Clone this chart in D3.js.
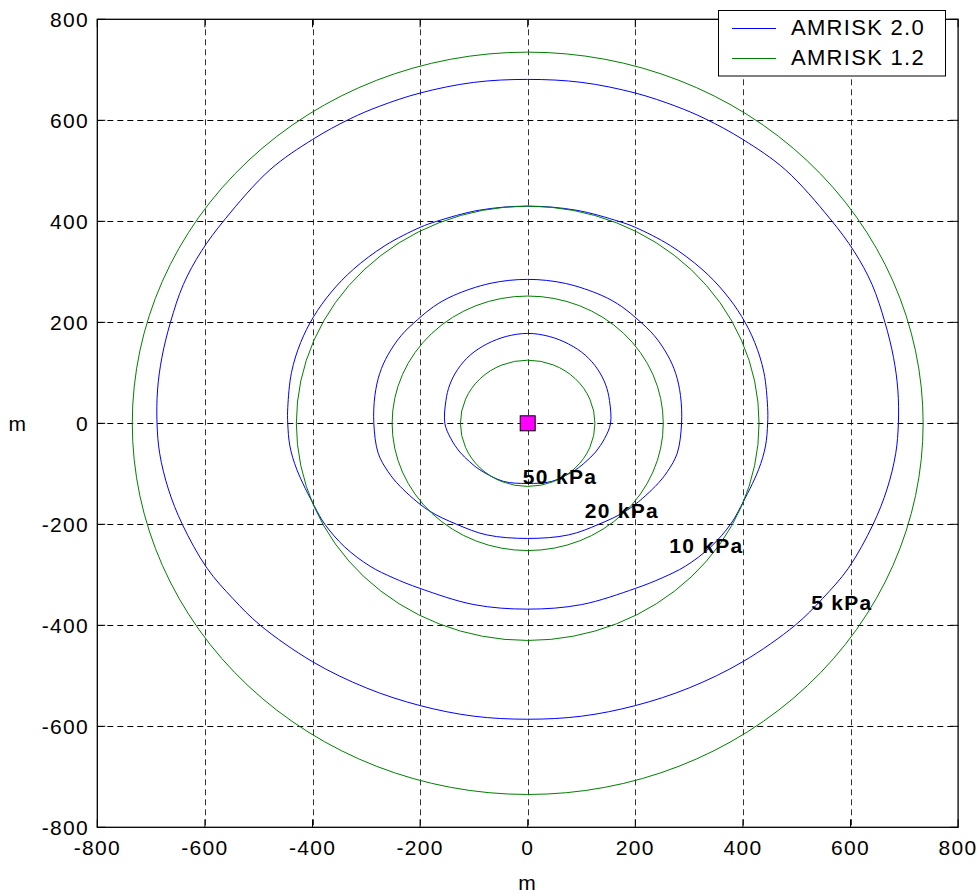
<!DOCTYPE html>
<html>
<head>
<meta charset="UTF-8">
<title>AMRISK overpressure contours</title>
<script src="https://d3js.org/d3.v7.min.js"></script>
<style>
  body { margin: 0; background: #fff; }
  svg text { font-family: "Liberation Sans", Arial, sans-serif; fill: #000; }
  .tick-label { font-size: 21px; letter-spacing: 1.3px; }
  .kpa { font-size: 21px; font-weight: bold; letter-spacing: 1.3px; }
  .legend-text { font-size: 22px; letter-spacing: 1.3px; }
</style>
</head>
<body>
<div id="chart"></div>
<script>
  // tick values, both axes
  const ticks = [-800, -600, -400, -200, 0, 200, 400, 600, 800];

  // AMRISK 2.0 contours (blue), metres
  const blue5 = [[0,681],[-101,675],[-200,654],[-275,628],[-330,603],[-400,562],[-479,502],[-562,405],
    [-607,340],[-640,275],[-664,200],[-680,130],[-688,66],[-689,0],[-684,-60],[-668,-130],[-642,-200],
    [-596,-287],[-548,-347],[-497,-400],[-400,-472],[-300,-524],[-200,-559],[-100,-580],[0,-586],
    [100,-580],[200,-559],[300,-524],[400,-472],[497,-400],[548,-347],[596,-287],[642,-200],
    [668,-130],[684,-60],[689,0],[688,66],[680,130],[664,200],[640,275],[607,340],[562,405],
    [479,502],[400,562],[330,603],[275,628],[200,654],[101,675]];
  const blue10 = [[0,430],[-90,422],[-169,400],[-200,388],[-265,352],[-324,305],[-365,260],[-398,211],
    [-422,160],[-439,101],[-446,31],[-446,0],[-442,-45],[-429,-92],[-396,-165],[-377,-200],
    [-340,-245],[-293,-283],[-250,-306],[-200,-327],[-100,-359],[0,-368],
    [100,-359],[200,-327],[250,-306],[293,-283],[340,-245],[377,-200],[396,-165],[429,-92],
    [442,-45],[446,0],[446,31],[439,101],[422,160],[398,211],[365,260],[324,305],[265,352],
    [200,388],[169,400],[90,422]];
  const blue20 = [[0,285],[-70,277],[-138,253],[-175,231],[-205,205],[-235,174],[-260,135],[-275,99],
    [-284,55],[-286,0],[-278,-59],[-260,-95],[-237,-125],[-185,-172],[-132,-200],[-76,-221],[0,-228],
    [76,-221],[132,-200],[185,-172],[237,-125],[260,-95],[278,-59],[286,0],[284,55],[275,99],
    [260,135],[235,174],[205,205],[175,231],[138,253],[70,277]];
  const blue50 = [[0,178],[-40,172],[-76,157],[-107,135],[-130,107],[-145,76],[-152,45],[-154,0],
    [-143,-30],[-126,-57],[-108,-76],[-89,-92],[-45,-115],[0,-119],
    [45,-115],[89,-92],[108,-76],[126,-57],[143,-30],[154,0],[152,45],[145,76],[130,107],
    [107,135],[76,157],[40,172]];

  // AMRISK 1.2 contours (green) are circles about the source, radius in metres
  const greenRadii = [735, 430, 252, 125];

  // contour labels, anchored at data coordinates
  const labels = [
    { text: "50 kPa", x: -9,  y: -106 },
    { text: "20 kPa", x: 106, y: -172 },
    { text: "10 kPa", x: 263, y: -241 },
    { text: "5 kPa",  x: 527, y: -354 }
  ];

  const width = 979, height = 894;
  const margin = { top: 19.3, right: 20.9, bottom: 66.7, left: 97.3 };

  const svg = d3.select("#chart").append("svg")
    .attr("width", width)
    .attr("height", height);

  const x = d3.scaleLinear().domain([-800, 800]).range([margin.left, width - margin.right]);
  const y = d3.scaleLinear().domain([-800, 800]).range([height - margin.bottom, margin.top]);

  // grid
  const grid = svg.append("g").attr("stroke", "#000").attr("stroke-width", 1)
    .attr("stroke-dasharray", "6,4").attr("fill", "none");
  grid.selectAll("line.v").data(ticks.slice(1, -1)).join("line")
    .attr("stroke", "#333")
    .attr("x1", d => Math.round(x(d)) + 0.5).attr("x2", d => Math.round(x(d)) + 0.5)
    .attr("y1", y(800)).attr("y2", y(-800));
  grid.selectAll("line.h").data(ticks.slice(1, -1)).join("line")
    .attr("class", "h")
    .attr("y1", d => Math.round(y(d)) + 0.5).attr("y2", d => Math.round(y(d)) + 0.5)
    .attr("x1", x(-800)).attr("x2", x(800));

  // contours
  const line = d3.line()
    .x(d => x(d[0])).y(d => y(d[1]))
    .curve(d3.curveCatmullRomClosed.alpha(0.5));

  svg.append("g").selectAll("path").data([blue5, blue10, blue20, blue50]).join("path")
    .attr("d", line)
    .attr("fill", "none").attr("stroke", "#0000ff").attr("stroke-width", 1);

  svg.append("g").selectAll("ellipse").data(greenRadii).join("ellipse")
    .attr("cx", x(0)).attr("cy", y(0))
    .attr("rx", d => x(d) - x(0)).attr("ry", d => y(0) - y(d))
    .attr("fill", "none").attr("stroke", "#008000").attr("stroke-width", 1);

  // source marker
  svg.append("rect")
    .attr("x", x(0) - 7.5).attr("y", y(0) - 7.5)
    .attr("width", 15).attr("height", 15)
    .attr("fill", "#ff00ff").attr("stroke", "#000").attr("stroke-width", 1);

  // labels
  svg.append("g").selectAll("text").data(labels).join("text")
    .attr("class", "kpa")
    .attr("x", d => x(d.x)).attr("y", d => y(d.y))
    .attr("dominant-baseline", "central")
    .text(d => d.text);

  // frame and inward ticks
  svg.append("rect")
    .attr("x", x(-800)).attr("y", y(800))
    .attr("width", x(800) - x(-800)).attr("height", y(-800) - y(800))
    .attr("fill", "none").attr("stroke", "#000").attr("stroke-width", 1.3);

  const tk = svg.append("g").attr("stroke", "#000").attr("stroke-width", 1);
  ticks.forEach(t => {
    tk.append("line").attr("x1", x(t)).attr("x2", x(t)).attr("y1", y(-800)).attr("y2", y(-800) - 8);
    tk.append("line").attr("x1", x(t)).attr("x2", x(t)).attr("y1", y(800)).attr("y2", y(800) + 8);
    tk.append("line").attr("y1", y(t)).attr("y2", y(t)).attr("x1", x(-800)).attr("x2", x(-800) + 8);
    tk.append("line").attr("y1", y(t)).attr("y2", y(t)).attr("x1", x(800)).attr("x2", x(800) - 8);
  });

  // tick labels
  svg.append("g").selectAll("text").data(ticks).join("text")
    .attr("class", "tick-label")
    .attr("x", d => x(d)).attr("y", 855)
    .attr("text-anchor", "middle")
    .text(d => d);
  svg.append("g").selectAll("text").data(ticks).join("text")
    .attr("class", "tick-label")
    .attr("x", 89).attr("y", d => y(d))
    .attr("text-anchor", "end")
    .attr("dominant-baseline", "central")
    .text(d => d);

  // axis titles
  svg.append("text").attr("class", "tick-label")
    .attr("x", x(0)).attr("y", 890).attr("text-anchor", "middle").text("m");
  svg.append("text").attr("class", "tick-label")
    .attr("x", 18).attr("y", y(0)).attr("text-anchor", "middle")
    .attr("dominant-baseline", "central").text("m");

  // legend
  const legend = svg.append("g");
  legend.append("rect")
    .attr("x", 718.5).attr("y", 10.5).attr("width", 227).attr("height", 65.5)
    .attr("fill", "#fff").attr("stroke", "#000").attr("stroke-width", 1);
  const series = [
    { name: "AMRISK 2.0", color: "#0000ff" },
    { name: "AMRISK 1.2", color: "#008000" }
  ];
  series.forEach((s, i) => {
    const ly = 28.5 + i * 30;
    legend.append("line").attr("x1", 732).attr("x2", 776).attr("y1", ly).attr("y2", ly)
      .attr("stroke", s.color).attr("stroke-width", 1);
    legend.append("text").attr("class", "legend-text")
      .attr("x", 791).attr("y", ly + 6.8).text(s.name);
  });
</script>
</body>
</html>
